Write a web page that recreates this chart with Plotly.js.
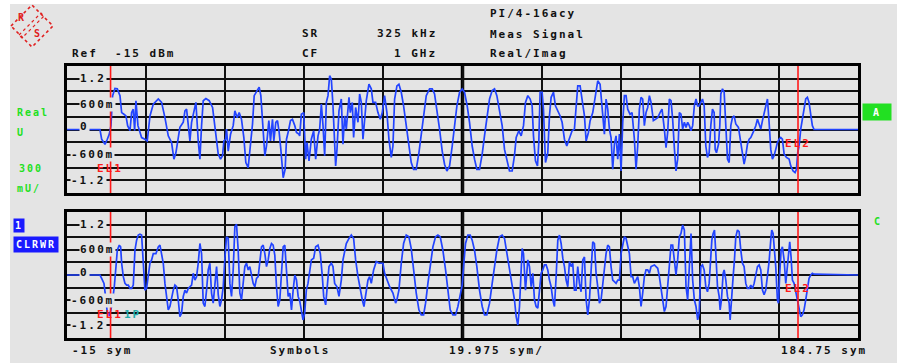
<!DOCTYPE html>
<html>
<head>
<meta charset="utf-8">
<script src="https://cdn.plot.ly/plotly-3.0.1.min.js"></script>
<style>
  html, body { margin: 0; padding: 0; background: #ffffff; }
  #chart { width: 902px; height: 363px; }
  .annotation-text { letter-spacing: 2px; }
</style>
</head>
<body>
<div id="chart"></div>
<script>
// ---------------- data ----------------
// x axis in symbols, y in volts
const xStartSym = -15;
const xStopSym = 184.75;
const symPerDiv = 19.975;
const voltPerDiv = 0.3;
const yTickVals = [1.2, 0.6, 0, -0.6, -1.2];
const yTickText = ['1.2', '600m', '0', '-600m', '-1.2'];
const markerSym = [-4.0, 169.6];   // EL1, EL2

// Real (I) trace: [symbol, volts]
const realTrace = [
[-15,0],[-6.67,0],[-6.25,-0.23],[-5.41,-0.35],[-4.82,-0.23],[-4.32,-0.11],[-3.90,0.09],[-3.48,0.80],[-2.89,0.97],[-2.30,0.96],
[-1.62,0.80],[-1.20,0.40],[-0.62,0.36],[-0.11,0.32],[0.31,0.09],[0.90,-0.03],[1.32,0.40],[1.74,0.48],[2.08,-0.03],[2.41,0.68],
[2.92,0.09],[3.84,-0.19],[4.68,-0.23],[5.27,-0.27],[5.95,0.32],[6.79,0.60],[8.05,0.72],[8.89,0.64],[9.73,0.28],[10.57,-0.15],
[11.41,-0.31],[12.0,-0.70],[12.5,-0.55],[13.51,0.05],[14.36,0.17],[14.78,0.44],[15.2,0.48],[15.62,0.17],[16.04,-0.27],[16.46,0.17],
[17.05,0.40],[17.55,0.64],[18.14,-0.27],[18.56,-0.70],[18.98,0.09],[19.4,0.68],[20.07,0.73],[20.91,0.68],[21.76,0.52],[22.34,0.09],
[23.19,-0.58],[23.77,-0.70],[24.28,-0.62],[24.62,-0.27],[25.04,-0.23],[25.29,0.01],[25.71,-0.51],[26.3,-0.11],[26.97,0.09],[27.39,0.44],
[27.98,0.28],[28.48,0.40],[29.07,0.24],[29.66,-0.19],[30.16,-0.78],[30.75,-0.90],[31.34,-0.39],[31.85,0.13],[32.27,0.80],[32.86,0.88],
[33.53,1.00],[33.95,0.80],[34.37,0.24],[34.96,-0.62],[35.38,-0.39],[35.97,0.21],[36.39,-0.27],[36.89,0.24],[37.23,-0.27],[37.73,0.17],
[38.15,0.21],[38.58,-0.07],[39.0,-0.47],[39.59,-1.14],[40.09,-0.94],[40.43,-0.23],[40.93,-0.03],[41.44,0.21],[41.94,0.24],[42.53,0.09],
[42.95,-0.07],[43.54,-0.11],[43.76,-0.15],[44.18,0.36],[44.77,0.40],[45.27,-0.70],[45.61,-0.31],[46.11,-0.74],[46.70,-0.23],[47.29,-0.03],
[47.80,-0.70],[48.39,-0.15],[48.81,0.01],[49.23,0.60],[49.65,0.09],[50.07,-0.62],[50.49,0.64],[50.91,0.80],[51.33,1.27],[51.75,1.19],
[52.17,0.56],[52.59,-0.23],[52.84,-0.86],[53.18,-0.47],[53.68,0.44],[54.27,0.72],[54.69,-0.35],[55.11,0.32],[55.53,0.01],[56.21,0.76],
[56.54,0.40],[57.05,0.64],[57.38,-0.19],[57.89,0.52],[58.48,0.17],[58.90,0.84],[59.32,0.64],[59.74,-0.23],[60.16,0.17],[60.58,0.68],
[61.25,1.07],[61.84,0.96],[62.26,0.64],[62.93,0.64],[63.52,0.40],[64.11,0.24],[64.62,0.40],[65.20,0.80],[65.79,0.40],[66.30,-0.23],
[66.89,-0.66],[67.31,-0.39],[67.73,0.72],[68.32,1.03],[68.82,1.07],[69.41,0.88],[70.0,0.56],[70.67,0.09],[71.34,-0.39],[71.93,-0.78],
[72.52,-0.94],[73.19,-0.94],[73.87,-0.55],[74.46,-0.11],[75.05,0.40],[75.72,0.80],[76.56,0.96],[77.23,0.96],[77.82,0.84],[78.41,0.48],
[79.08,0.01],[79.75,-0.51],[80.34,-0.82],[80.93,-0.98],[81.61,-0.86],[82.28,-0.39],[82.87,0.17],[83.46,0.56],[84.13,0.88],[84.80,0.96],
[85.39,0.88],[86.06,0.56],[86.65,0.17],[87.32,-0.39],[87.91,-0.70],[88.50,-0.94],[89.17,-0.94],[89.85,-0.58],[90.43,-0.15],[91.02,0.28],
[91.70,0.72],[92.37,0.92],[92.96,0.96],[93.55,0.80],[94.22,0.48],[94.89,0.09],[95.48,-0.47],[96.07,-0.74],[96.74,-0.98],[97.42,-0.98],
[98.0,-0.62],[98.43,-0.19],[99.10,-0.03],[99.69,-0.15],[100.28,0.09],[100.78,0.64],[101.37,0.80],[101.96,0.72],[102.46,0.56],[102.80,-0.15],
[103.30,-0.74],[103.81,-0.86],[104.14,-0.31],[104.48,0.88],[104.98,0.88],[105.32,0.48],[105.83,-0.78],[106.41,-0.55],[106.83,0.32],[107.26,0.76],
[107.84,0.88],[108.35,0.56],[108.94,0.44],[109.53,0.32],[110.03,0.17],[110.62,-0.23],[111.21,-0.39],[111.88,-0.19],[112.55,-0.03],[113.14,0.01],
[113.56,0.48],[113.98,1.03],[114.57,1.03],[115.08,0.64],[115.67,0.32],[116.09,-0.27],[116.67,-0.07],[117.10,0.21],[117.77,0.40],[118.44,0.80],
[119.03,1.15],[119.62,1.07],[120.12,0.56],[120.71,-0.11],[121.13,0.72],[121.55,0.48],[121.97,0.01],[122.39,-0.19],[122.81,-0.94],[123.23,-0.35],
[123.65,-0.15],[124.08,-0.70],[124.50,-0.11],[124.92,-0.98],[125.34,0.17],[125.76,0.80],[126.18,0.80],[126.60,0.48],[127.19,0.36],[127.69,0.40],
[128.28,-0.23],[128.70,-0.94],[129.12,-0.39],[129.54,0.48],[129.96,0.76],[130.38,0.72],[130.80,0.09],[131.22,0.40],[131.64,0.52],[132.07,0.80],
[132.49,0.64],[133.07,0.21],[133.58,0.24],[134.17,0.28],[134.76,0.40],[135.26,0.48],[135.85,0.01],[136.27,-0.43],[136.69,-0.07],[137.11,0.72],
[137.53,0.68],[137.95,0.24],[138.37,-0.43],[138.79,-0.98],[139.21,-0.70],[139.63,0.40],[140.05,0.36],[140.47,0.01],[140.90,0.17],[141.32,0.05],
[141.74,0.17],[142.16,0.09],[142.58,-0.03],[143.0,0.09],[143.42,0.56],[143.84,0.72],[144.26,0.56],[144.64,0.56],[145.06,0.64],[145.48,0.72],
[145.90,0.56],[146.32,-0.39],[146.74,-0.66],[147.16,-0.55],[147.58,0.09],[148.0,0.48],[148.42,0.40],[148.68,-0.47],[149.01,-0.55],[149.52,-0.35],
[149.85,0.09],[150.11,0.84],[150.53,0.96],[150.95,0.88],[151.37,0.09],[151.79,-0.70],[152.21,-0.78],[152.63,0.09],[153.05,0.28],[153.47,0.32],
[153.89,0.13],[154.56,0.05],[155.15,-0.31],[155.57,-0.58],[155.99,-0.82],[156.41,-0.62],[156.83,-0.35],[157.26,-0.23],[157.68,-0.19],[158.26,-0.07],
[158.94,0.09],[159.36,0.24],[159.78,0.13],[160.20,0.01],[160.62,0.21],[161.04,0.40],[161.46,0.56],[161.88,0.72],[162.30,0.17],[162.72,-0.47],
[163.14,-0.70],[163.56,-0.62],[163.98,-0.47],[164.40,-0.31],[164.82,-0.23],[165.24,-0.19],[165.66,-0.23],[166.09,-0.58],[166.67,-0.66],[167.35,-0.70],
[167.77,-0.86],[168.36,-0.98],[168.86,-1.02],[169.20,-0.94],[169.53,-0.55],[169.87,-0.39],[170.29,0.01],[170.71,0.28],[171.13,0.48],[171.55,0.72],
[171.97,0.76],[172.39,0.64],[172.81,0.36],[173.23,0.09],[173.65,0],[184.75,0]
];

// Imag (Q) trace: [symbol, volts]
const imagTrace = [
[-15,0],[-6.67,0],[-6.25,-0.08],[-5.66,-0.20],[-5.16,-0.59],[-4.82,-0.91],[-4.32,-0.97],[-3.90,-0.83],[-3.48,-0.59],[-3.06,-0.28],
[-2.63,0.20],[-2.30,0.59],[-1.79,0.71],[-1.46,0.67],[-1.20,0.28],[-0.78,-0.04],[-0.36,-0.20],[0.06,-0.24],[0.48,-0.24],[0.90,-0.32],
[1.32,-0.32],[1.74,-0.24],[2.16,0.59],[2.58,0.83],[3.0,0.95],[3.42,0.97],[3.84,0.95],[4.26,0.20],[4.68,-0.36],[5.10,-0.32],
[5.52,0],[5.95,0.28],[6.37,0.36],[6.79,0.51],[7.46,0.51],[8.05,0.67],[8.47,0.71],[8.89,0.51],[9.31,0.28],[9.73,-0.20],
[10.15,-0.51],[10.57,-0.83],[10.99,-0.75],[11.41,-0.51],[11.83,-0.36],[12.25,-0.24],[12.67,-0.28],[13.09,-0.59],[13.51,-0.99],[13.93,-0.91],
[14.36,-0.51],[14.78,-0.36],[15.20,-0.43],[15.62,-0.32],[16.04,-0.28],[16.46,-0.24],[16.88,0.04],[17.30,-0.12],[17.72,-0.04],[18.14,0.28],
[18.56,0.75],[18.98,0.51],[19.40,-0.67],[19.82,-0.75],[20.24,-0.36],[20.66,0.12],[21.08,0.28],[21.50,-0.43],[21.92,-0.67],[22.34,-0.28],
[22.77,0.20],[23.19,-0.47],[23.61,-0.75],[24.03,-0.59],[24.45,-0.28],[24.87,0.40],[25.29,0.91],[25.71,0.87],[26.13,-0.20],[26.55,-0.51],
[26.97,0.12],[27.39,1.15],[27.81,1.21],[28.23,0.59],[28.65,-0.43],[29.07,-0.59],[29.49,-0.20],[29.91,0.20],[30.33,0.28],[30.75,0.12],
[31.17,0.20],[31.60,-0.04],[32.02,-0.20],[32.44,-0.28],[32.86,-0.08],[33.28,-0.04],[33.70,0.32],[34.12,0.67],[34.54,0.71],[34.96,0.51],
[35.38,0.20],[35.80,0.36],[36.22,0.63],[36.64,0.75],[37.06,0.71],[37.48,0.47],[37.90,-0.28],[38.32,-0.75],[38.74,-0.59],[39.16,0],
[39.59,0.67],[40.01,0.71],[40.43,-0.04],[40.85,-0.51],[41.27,-0.43],[41.69,-0.83],[42.11,-0.36],[42.53,0],[42.95,-0.12],[43.37,-0.51],
[43.79,-0.63],[44.18,-0.83],[44.60,-1.07],[45.02,-0.91],[45.44,-0.36],[45.86,-0.20],[46.28,0.12],[46.70,0.36],[47.29,0.40],[47.80,0.67],
[48.39,0.71],[48.97,0.51],[49.48,-0.04],[49.82,-0.51],[50.32,-0.71],[50.66,-0.28],[51.16,0.20],[51.75,0.28],[52.17,0.20],[52.59,-0.20],
[53.18,-0.28],[53.68,-0.51],[54.27,-0.12],[54.69,0.36],[55.11,0.59],[55.53,0.75],[56.21,0.87],[56.80,0.95],[57.38,0.87],[57.89,0.36],
[58.48,-0.04],[59.07,-0.36],[59.57,-0.59],[59.99,-0.75],[60.41,-0.51],[61.0,-0.12],[61.42,-0.04],[61.84,-0.20],[62.43,0.12],[63.10,0.32],
[63.78,0.28],[64.36,0.28],[64.79,0.28],[65.21,0.04],[65.79,-0.12],[66.47,-0.28],[67.31,-0.43],[67.98,-0.67],[68.32,-0.59],[68.82,-0.36],
[69.41,0.28],[70.0,0.75],[70.67,0.95],[71.34,0.91],[71.93,0.63],[72.52,0.12],[73.19,-0.43],[73.87,-0.83],[74.46,-0.95],[75.05,-0.95],
[75.55,-0.67],[76.14,-0.20],[76.73,0.24],[77.40,0.67],[78.07,0.91],[78.66,0.95],[79.25,0.91],[79.92,0.59],[80.60,0.12],[81.18,-0.43],
[81.77,-0.83],[82.45,-0.95],[83.12,-0.95],[83.71,-0.75],[84.30,-0.51],[84.80,-0.24],[85.14,0.20],[85.64,0.75],[86.23,0.95],[86.82,0.95],
[87.32,0.83],[87.91,0.59],[88.50,0.20],[89.17,-0.36],[89.85,-0.75],[90.43,-0.95],[91.02,-0.95],[91.70,-0.67],[92.37,-0.20],[92.96,0.20],
[93.55,0.59],[94.22,0.91],[94.89,0.95],[95.48,0.87],[96.07,0.51],[96.74,0.20],[97.42,-0.20],[98.0,-0.59],[98.43,-0.99],[98.85,-1.19],
[99.27,-0.75],[99.69,0.20],[99.94,0.63],[100.28,0.51],[100.78,-0.36],[101.37,0.36],[101.79,0.20],[102.21,-0.28],[102.63,0.04],[103.05,-0.59],
[103.47,-0.75],[103.89,-0.79],[104.31,-0.43],[104.73,0.04],[105.15,0.12],[105.57,0.24],[105.99,0.24],[106.41,0.12],[106.83,-0.12],[107.26,-0.28],
[107.68,-0.59],[108.10,-0.75],[108.52,-0.04],[108.94,0.83],[109.36,0.95],[109.78,0.75],[110.20,0.40],[110.62,0.20],[111.04,-0.12],[111.46,-0.28],
[111.88,0.32],[112.30,0.20],[112.72,0.28],[113.14,-0.36],[113.56,-0.36],[113.98,0.20],[114.40,-0.20],[114.82,-0.40],[115.25,0.36],[115.67,0.43],
[116.09,-0.59],[116.51,-0.95],[116.93,-0.59],[117.35,0.20],[117.77,0.79],[118.19,0.75],[118.61,0.04],[119.03,-0.28],[119.45,-0.67],[119.87,-0.59],
[120.29,-0.20],[120.71,0.04],[121.13,0.51],[121.55,0.71],[121.97,0.67],[122.39,0.20],[122.81,-0.12],[123.23,-0.16],[123.65,-0.20],[124.08,-0.12],
[124.50,-0.12],[124.92,0.51],[125.34,0.75],[125.76,0.91],[126.18,0.87],[126.60,0.67],[127.02,0.51],[127.44,-0.04],[127.86,-0.04],[128.28,-0.20],
[128.70,-0.12],[129.12,-0.04],[129.54,-0.28],[129.96,-0.75],[130.38,-0.43],[130.80,-0.04],[131.22,0.12],[131.64,0.12],[132.07,0.04],[132.49,0.20],
[133.33,0.24],[133.75,0.20],[134.17,0.16],[134.59,-0.04],[135.01,-0.36],[135.43,-0.67],[135.85,-0.87],[136.27,-0.75],[136.69,-0.20],[137.11,0.20],
[137.53,0.71],[137.95,0.71],[138.37,0.36],[138.79,0],[139.21,0.36],[139.63,0.91],[140.05,0.99],[140.47,1.19],[140.90,1.07],[141.32,-0.28],
[141.74,-0.59],[142.16,0.20],[142.58,0.99],[143.0,-0.12],[143.42,-0.59],[143.84,-0.75],[144.26,-1.07],[144.64,-0.90],[145.06,0.20],[145.48,0.24],
[145.90,0.12],[146.32,-0.28],[146.74,-0.40],[147.16,-0.20],[147.58,0.36],[147.84,0.83],[148.17,0.99],[148.51,1.07],[148.85,0.51],[149.27,-0.28],
[149.69,-0.51],[149.94,-0.83],[150.27,-0.59],[150.70,0.04],[150.95,0.12],[151.37,-0.12],[151.79,-0.51],[152.21,-0.67],[152.46,-1.07],[152.80,-0.51],
[153.22,-0.04],[153.55,0.36],[153.89,0.91],[154.31,1.07],[154.73,1.03],[155.15,0.59],[155.57,0.28],[155.99,0.20],[156.41,-0.20],[156.83,-0.32],
[157.26,-0.32],[157.68,-0.24],[158.10,-0.32],[158.52,-0.20],[158.94,0],[159.36,0.20],[159.78,0.24],[160.20,0.12],[160.62,-0.36],[161.04,-0.47],
[161.46,-0.36],[161.88,-0.04],[162.30,0.32],[162.72,0.83],[162.97,1.07],[163.31,0.99],[163.65,0.67],[163.98,0.20],[164.40,-0.59],[164.66,-0.67],
[164.99,0.04],[165.33,0.59],[165.66,0.67],[166.09,0.36],[166.51,-0.20],[166.84,0.16],[167.18,0.63],[167.51,0.79],[167.85,0.43],[168.19,-0.12],
[168.61,-0.20],[169.03,-0.40],[169.45,-0.59],[169.87,-0.75],[170.29,-0.99],[170.71,-0.95],[171.13,-0.83],[171.55,-0.59],[171.97,-0.36],[172.39,-0.08],
[172.81,0],[173.23,0.04],[173.65,0.02],[184.75,0]
];

// ---------------- helpers ----------------
const W = 902, H = 363;
const PX = p => p / W;          // pixel -> paper x
const PY = p => 1 - p / H;      // pixel -> paper y
const GRAY = '#e4e4e4';
const BLUE = '#2244ff';
const RED = '#ff1a1a';
const GREEN = '#22e022';
const MONO = '"DejaVu Sans Mono", "Liberation Mono", monospace';

const xDomain = [PX(67), PX(858)];
const topDomain = [PY(193), PY(66)];
const botDomain = [PY(338), PY(212)];

function xAxis(anchor) {
  return {
    domain: xDomain, anchor: anchor,
    range: [xStartSym, xStopSym], tick0: xStartSym, dtick: symPerDiv,
    showgrid: true, gridcolor: '#111', gridwidth: 2,
    zeroline: false, showticklabels: false, ticks: '',
    showline: true, mirror: true, linecolor: '#000', linewidth: 3,
    fixedrange: true
  };
}
function yAxis(domain, anchor) {
  return {
    domain: domain, anchor: anchor,
    range: [-5 * voltPerDiv, 5 * voltPerDiv], tick0: 0, dtick: voltPerDiv,
    showgrid: true, gridcolor: '#111', gridwidth: 2,
    zeroline: false, showticklabels: false, ticks: '',
    showline: true, mirror: true, linecolor: '#000', linewidth: 3,
    fixedrange: true
  };
}

const traces = [
  { x: realTrace.map(p => p[0]), y: realTrace.map(p => p[1]), xaxis: 'x', yaxis: 'y',
    type: 'scatter', mode: 'lines', line: { color: BLUE, width: 1.7 }, hoverinfo: 'skip' },
  { x: imagTrace.map(p => p[0]), y: imagTrace.map(p => p[1]), xaxis: 'x2', yaxis: 'y2',
    type: 'scatter', mode: 'lines', line: { color: BLUE, width: 1.7 }, hoverinfo: 'skip' }
];

const centerSym = xStartSym + 5 * symPerDiv;
const shapes = [];
[['x', 'y'], ['x2', 'y2']].forEach(([xr, yr]) => {
  shapes.push({ type: 'line', xref: xr, yref: yr, x0: centerSym, x1: centerSym, y0: -5 * voltPerDiv, y1: 5 * voltPerDiv,
    line: { color: '#000', width: 3.5 }, layer: 'below' });
  markerSym.forEach(m => shapes.push({ type: 'line', xref: xr, yref: yr, x0: m, x1: m,
    y0: -5 * voltPerDiv, y1: 5.05 * voltPerDiv,
    line: { color: RED, width: 1.6 }, layer: 'above' }));
});
// white outer strips of the screenshot
shapes.push({ type: 'rect', xref: 'paper', yref: 'paper', x0: 0, x1: 1, y0: PY(4), y1: 1, fillcolor: '#fff', line: { width: 0 } });
shapes.push({ type: 'rect', xref: 'paper', yref: 'paper', x0: 0, x1: PX(10), y0: 0, y1: 1, fillcolor: '#fff', line: { width: 0 } });
shapes.push({ type: 'rect', xref: 'paper', yref: 'paper', x0: PX(897), x1: 1, y0: 0, y1: 1, fillcolor: '#fff', line: { width: 0 } });
// R&S logo
shapes.push({ type: 'path', xref: 'paper', yref: 'paper',
  path: `M ${PX(11)} ${PY(26)} L ${PX(32)} ${PY(5)} L ${PX(53)} ${PY(26)} L ${PX(32)} ${PY(47)} Z`,
  line: { color: '#e02020', width: 1.6, dash: 'dot' } });
shapes.push({ type: 'path', xref: 'paper', yref: 'paper',
  path: `M ${PX(19)} ${PY(35)} L ${PX(41)} ${PY(13)} L ${PX(44)} ${PY(16)} L ${PX(22)} ${PY(38)} Z`,
  line: { color: '#e02020', width: 1.2, dash: 'dot' } });

const annotations = [];
function txt(text, x, y, o = {}) {
  annotations.push(Object.assign({
    text: text, xref: 'paper', yref: 'paper', x: PX(x), y: PY(y),
    xanchor: 'left', yanchor: 'middle', showarrow: false,
    font: { family: MONO, size: 11, color: '#111', weight: 'bold' }
  }, o));
}
// header
txt('Ref  -15 dBm', 70, 53);
txt('SR', 300, 33);
txt('325 kHz', 375, 33);
txt('CF', 300, 53);
txt('1 GHz', 392, 53);
txt('PI/4-16acy', 488, 14);
txt('Meas Signal', 488, 34);
txt('Real/Imag', 488, 53);
// footer
txt('-15 sym', 70, 350);
txt('Symbols', 268, 350);
txt('19.975 sym/', 447, 350);
txt('184.75 sym', 779, 350);
// left green labels
const gfont = { family: MONO, size: 10, color: GREEN, weight: 'bold' };
txt('Real', 15, 113, { font: gfont });
txt('U', 15, 132, { font: gfont });
txt('300', 17, 168, { font: gfont });
txt('mU/', 15, 188, { font: gfont });
txt('C', 872, 221, { font: gfont });
// blue boxes
const wfont = { family: MONO, size: 10, color: '#fff', weight: 'bold' };
txt('1', 13, 225, { font: wfont, bgcolor: '#1a1aff', borderpad: 1 });
txt('CLRWR', 13, 244, { font: wfont, bgcolor: '#1a1aff', borderpad: 2 });
// green box A
txt('A', 862, 112, { font: wfont, bgcolor: GREEN, width: 26, height: 14, align: 'center' });
// logo letters
const lfont = { family: MONO, size: 10, color: '#e02020', weight: 'bold' };
txt('R', 22, 17, { font: lfont, xanchor: 'center' });
txt('S', 38, 33, { font: lfont, xanchor: 'center' });

// in-plot y tick labels
[['x', 'y'], ['x2', 'y2']].forEach(([xr, yr]) => {
  yTickVals.forEach((v, i) => {
    annotations.push({
      text: yTickText[i], xref: xr, yref: yr, x: xStartSym, y: v,
      xanchor: 'left', yanchor: 'middle', xshift: v < 0 ? 3 : 12, yshift: v === 0 ? 3 : 0,
      showarrow: false, bgcolor: GRAY, borderpad: 0,
      font: { family: MONO, size: 11, color: '#111', weight: 'bold' }
    });
  });
});
// marker labels
const rfont = { family: MONO, size: 11, color: RED, weight: 'bold' };
txt('EL1', 95, 168, { font: rfont });
txt('EL1', 95, 314, { font: rfont });
txt('1P', 122, 314, { font: { family: MONO, size: 11, color: '#22aaaa', weight: 'bold' } });
txt('EL2', 783, 143, { font: rfont });
txt('EL2', 783, 288, { font: rfont });

const layout = {
  width: W, height: H,
  margin: { l: 0, r: 0, t: 0, b: 0 },
  paper_bgcolor: GRAY, plot_bgcolor: GRAY,
  showlegend: false,
  xaxis: xAxis('y'), yaxis: yAxis(topDomain, 'x'),
  xaxis2: xAxis('y2'), yaxis2: yAxis(botDomain, 'x2'),
  shapes: shapes, annotations: annotations
};

Plotly.newPlot('chart', traces, layout, { displayModeBar: false, staticPlot: true });
</script>
</body>
</html>
